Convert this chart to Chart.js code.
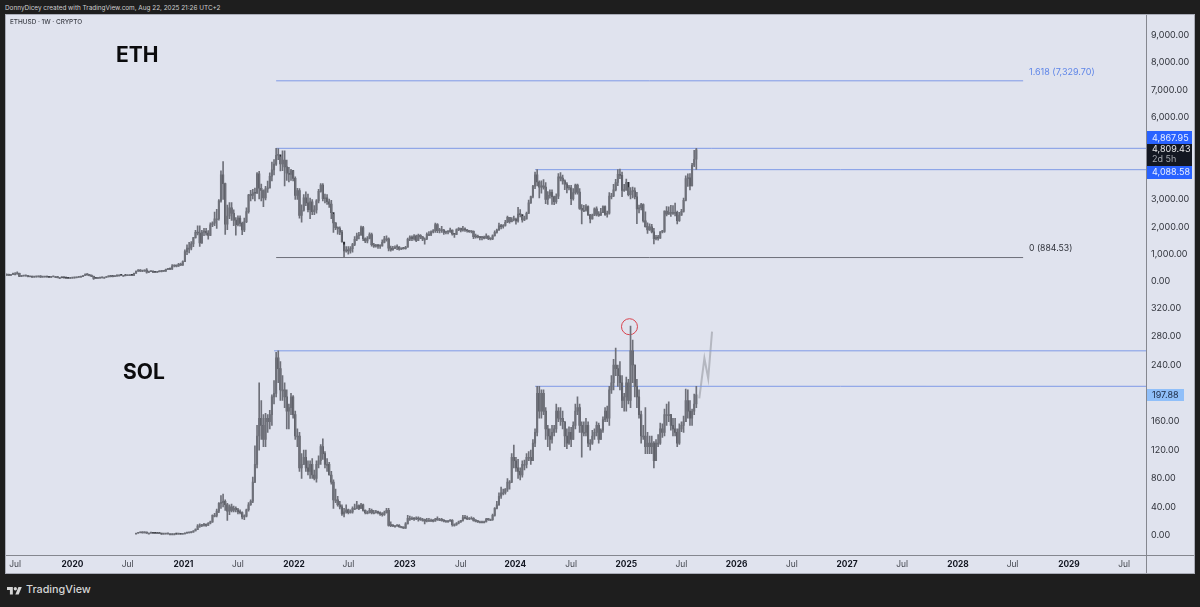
<!DOCTYPE html>
<html>
<head>
<meta charset="utf-8">
<title>ETH vs SOL</title>
<script src="https://cdn.jsdelivr.net/npm/chart.js@4/dist/chart.umd.js"></script>
<style>
html, body { margin: 0; padding: 0; background: #1e1e1e; width: 1200px; height: 607px; overflow: hidden; font-family: Inter, "Liberation Sans", sans-serif; }
#head { position: absolute; left: 5px; top: 3px; font-size: 6.4px; line-height: 10px; color: #cfcfcf; white-space: nowrap; }
#panel { position: absolute; left: 5px; top: 14px; width: 1190px; height: 560px; box-sizing: border-box; background: #e0e3ee; border: 1px solid #a9acb7; }
#panel canvas { position: absolute; left: 0; top: 0; }
#foot { position: absolute; left: 7px; top: 583px; display: flex; align-items: center; color: #d6d6d6; font-size: 10.8px; font-weight: 500; }
#foot svg { margin-right: 4px; }
</style>
</head>
<body>
<div id="head">DonnyDicey created with TradingView.com, Aug 22, 2025 21:26 UTC+2</div>
<div id="panel"><canvas id="c" width="1188" height="558"></canvas></div>
<div id="foot">
  <svg width="15" height="10" viewBox="0 0 36 22" fill="#d6d6d6"><path d="M14 22H7V11H0V4h14v18z"/><path d="M28 22h-8l7.5-18h8L28 22z"/><circle cx="20" cy="8" r="4"/></svg>
  <span>TradingView</span>
</div>
<script>
// --- Data (weekly candles) ---
const lastWeek = 294; // weeks since 1 Jan 2020, the current candle

const ethClose = [
  268,230,269,290,290,307,200,212,218,225,185,194,172,178,180,197,170,175,190,175,162,184,185,185,150,150,148,145,132,127,135,144,
  146,166,168,189,228,265,252,226,200,124,122,131,144,158,158,182,207,188,187,209,245,245,232,232,225,226,240,232,310,390,425,390,395,430,350,370,385,355,345,370,365,410,385,450,465,460,575,590,570,640,610,735,
  1100,1230,1230,1380,1610,1800,1780,1420,1810,1840,1780,1690,2080,2140,2300,2300,2950,3900,3580,2100,2400,2700,2500,2250,2080,2320,2130,1890,2190,2560,3160,3150,3240,3230,3940,3410,3330,3060,3390,3410,3850,4080,4290,4610,4630,4300,4440,4190,3960,3920,4060,3770,
  3150,3330,2420,2600,3060,2880,2630,2920,2560,2620,2950,3300,3530,3030,3060,2920,2830,2520,2150,1975,1945,1810,1450,1130,1140,1130,1210,1360,1550,1680,1700,1980,1570,1490,1580,1720,1350,1300,1320,1300,1310,1440,1570,1570,1230,1160,1220,1260,1270,1190,1220,1210,
  1260,1550,1630,1570,1670,1510,1690,1640,1560,1560,1730,1730,1820,1860,2090,1860,1870,1890,1800,1820,1830,1890,1750,1730,1900,1950,1880,1930,1890,1860,1830,1840,1650,1640,1630,1610,1620,1590,1670,1580,1560,1680,1800,1890,2040,2010,2060,2170,2350,2190,2270,2280,
  2220,2470,2450,2260,2290,2500,2880,3110,3490,3900,3640,3450,3500,3450,3000,3150,3260,3100,2920,3120,3830,3780,3680,3560,3420,3430,3030,3250,3530,3270,2680,2610,2610,2740,2440,2290,2430,2660,2470,2420,2520,2740,2460,2500,3130,3130,3350,3620,3920,3880,3330,3340,3630,
  3180,3300,3320,3100,2660,2700,2820,2220,2010,1890,2000,1820,1570,1620,1590,1820,1840,2580,2470,2530,2530,2530,2530,2230,2430,2570,2970,3760,3790,3500,4250,4470,4809.43
];
const ethHigh = [
  290,280,275,320,340,360,315,235,228,240,235,200,200,182,190,205,225,180,195,198,178,200,195,195,188,155,155,153,148,135,135,148,
  150,172,178,192,230,290,288,260,255,205,140,140,150,172,175,190,216,215,198,215,250,250,248,240,240,235,245,245,320,395,445,445,400,440,485,380,395,388,360,375,385,420,415,460,480,490,625,620,610,670,680,760,
  1170,1350,1440,1470,1620,1880,2040,2040,1880,1950,1950,1870,2150,2190,2540,2640,3000,4050,4380,3600,2800,2890,2890,2620,2340,2410,2410,2180,2320,2700,3190,3340,3370,3420,3980,4030,3560,3350,3480,3670,3970,4370,4460,4870,4860,4560,4780,4780,4440,4170,4100,4040,
  3830,3410,3400,2810,3180,3280,3200,3050,3000,2780,3000,3370,3580,3580,3200,3180,3020,2970,2460,2150,2000,2000,1880,1350,1280,1280,1280,1400,1650,1780,1800,2030,2020,1600,1650,1790,1780,1400,1370,1370,1350,1530,1660,1680,1600,1300,1290,1310,1350,1280,1240,1240,
  1290,1590,1680,1680,1720,1700,1740,1720,1660,1600,1790,1830,1860,1900,2140,2120,1950,2020,1910,1850,1860,1960,1890,1760,1930,1980,1960,2020,1970,1900,1880,1860,1860,1740,1700,1650,1660,1670,1750,1680,1600,1710,1860,1920,2140,2100,2090,2240,2400,2350,2340,2400,
  2320,2720,2630,2390,2400,2540,2980,3130,3520,4000,4090,3680,3680,3730,3620,3290,3350,3350,3130,3210,3950,3980,3890,3720,3620,3520,3520,3400,3560,3560,3400,2820,2790,2820,2770,2460,2470,2700,2730,2560,2680,2770,2770,2580,3250,3230,3550,3740,4090,4110,4000,3550,3750,
  3440,3440,3450,3430,3260,2800,2860,2840,2550,2150,2110,2100,1950,1690,1690,1830,1880,2590,2740,2730,2790,2780,2870,2580,2530,2640,3050,3860,3940,3950,4320,4790,4868
];
const ethLow = [
  240,225,228,262,275,280,195,190,205,208,180,175,165,165,165,175,165,165,170,170,155,160,178,178,145,135,140,140,125,120,122,128,
  130,142,155,165,186,225,240,215,195,90,115,125,128,140,150,155,175,180,180,185,205,232,225,218,215,220,225,230,230,308,375,375,365,380,310,330,365,335,335,340,360,360,375,380,445,445,450,540,540,565,595,600,
  730,990,1050,1160,1280,1590,1710,1290,1400,1680,1700,1550,1680,2010,2050,1950,2250,2900,3000,1730,1900,2300,2240,2050,1700,2040,2030,1720,1830,2160,2500,2950,3020,2950,3220,3020,2950,2740,2990,3260,3430,3680,3900,4240,4450,4040,4050,3500,3700,3640,3700,3680,
  3000,3000,2320,2170,2580,2780,2550,2300,2450,2450,2500,2880,3270,2950,2880,2820,2710,2300,1800,1900,1740,1720,1450,885,1080,1010,1040,1080,1320,1500,1560,1700,1500,1430,1420,1560,1300,1250,1260,1220,1220,1300,1420,1480,1130,1120,1150,1210,1170,1150,1170,1190,
  1190,1260,1500,1500,1520,1460,1500,1570,1500,1370,1540,1680,1680,1780,1800,1790,1780,1800,1730,1750,1750,1800,1700,1620,1720,1860,1820,1850,1840,1810,1800,1780,1570,1590,1600,1530,1530,1560,1580,1540,1530,1540,1660,1770,1870,1930,1960,2030,2160,2140,2180,2220,
  2100,2170,2370,2170,2230,2280,2480,2860,3060,3400,3500,3060,3230,3380,2850,2820,3050,2820,2810,2860,3030,3680,3560,3360,3240,3350,2810,2980,3200,3200,2640,2110,2560,2580,2420,2150,2280,2410,2400,2380,2430,2600,2420,2360,2470,3020,3100,3310,3510,3760,3100,3300,3340,
  3130,3020,3060,3020,2120,2510,2620,2170,1990,1760,1870,1780,1380,1530,1520,1580,1780,1800,2400,2460,2380,2460,2400,2110,2200,2420,2540,2950,3480,3350,3500,4200,4100
];

const solClose = [
  2.9,3.6,3.9,3.5,4.2,3.0,3.0,3.4,2.9,2.7,2.5,2.3,1.6,1.8,1.9,2.0,2.0,2.0,2.0,1.7,1.8,1.5,1.8,
  3.0,3.5,3.7,4.5,6,8,13,13.5,14,15,14,17,19,28,28,34,45,46,48,43,34,40,35,38,36,33,32,26,27,36,43,48,75,100,140,165,155,135,165,160,170,195,200,250,235,205,205,195,175,180,195,170,
  140,140,95,100,110,95,90,100,85,80,100,105,125,115,100,100,85,75,50,50,43,40,30,33,36,32,33,38,38,42,38,43,35,32,32,35,32,32,33,32,30,29,32,35,14,13.5,13,13,14,12,11,10,
  16,24,24,24,23,24,23,22,22,20,21,21,21,20,23,22,22,21,20,20,20,21,15,15,17,19,21,25,24,23,24,24,21,20,19,19,19,19,23,22,22,28,38,43,55,60,60,65,75,75,110,105,
  95,90,85,100,100,110,110,105,130,145,200,175,200,175,150,140,135,145,150,175,165,165,160,140,130,145,135,155,175,180,155,145,145,155,130,130,140,145,155,135,148,163,175,165,205,215,240,235,225,215,190,195,
  215,190,260,240,210,195,170,140,140,125,130,125,130,105,130,130,150,145,170,170,170,155,150,145,130,150,155,160,190,175,165,175,185,197.88
];
const solHigh = [
  3.2,3.9,4.5,4.1,4.8,4.4,3.2,3.8,3.5,3.0,2.8,2.6,2.4,2.0,2.1,2.3,2.3,2.3,2.4,2.1,1.9,1.9,1.9,
  3.6,4.0,4.2,4.8,6.5,9,15,16,15.5,17,16,18,20,29,31,37,46,56,58,50,45,43,44,41,40,38,36,33,29,37,46,50,82,126,155,215,190,170,172,170,176,198,218,258,260,245,225,215,205,185,200,197,
  175,150,145,115,120,120,105,105,108,92,105,112,128,136,118,108,103,90,78,65,55,48,43,38,43,37,36,40,44,48,43,45,44,36,34,38,37,35,35,34,33,32,34,38,38,19,15,14,15,15,12.5,12,
  18,28,27,26,25,26,26,25,24,23,24,24,23,22,24,26,24,24,22,21,21,22,22,16,18,20,21,28,28,27,25,26,25,22,21,20,20,20,24,24,23,30,39,48,60,68,65,66,80,77,115,127,
  110,107,95,105,106,115,118,120,135,150,210,210,205,205,180,155,150,155,155,185,180,180,175,160,150,153,152,160,185,195,185,160,160,165,160,135,148,150,160,158,150,167,180,182,210,225,248,264,240,245,225,200,
  223,220,295,275,240,220,205,175,155,180,145,140,140,132,135,142,158,157,178,185,188,170,165,165,150,157,160,168,206,205,190,178,199,210
];
const solLow = [
  2.4,2.8,3.4,3.2,3.4,2.9,2.2,2.9,2.7,2.4,2.3,2.2,1.5,1.5,1.6,1.7,1.8,1.8,1.8,1.6,1.5,1.4,1.4,
  1.8,2.9,3.2,3.5,4.3,6,8,11,12,13,12.5,14,16,18,26,26,32,38,40,35,21,29,33,33,33,30,30,23,22,26,34,42,46,74,95,120,135,125,125,145,150,155,185,195,215,190,190,180,150,150,170,165,
  135,125,90,80,100,90,85,80,80,78,75,95,100,107,95,90,85,72,38,46,41,37,28,26,31,30,31,31,36,37,36,38,34,30,30,31,30,30,31,30,28,27,28,31,13,12,12.5,12,13,11,10.5,9.5,
  9.5,16,21,22,21,22,20,21,20,16,19,20,20,19,20,21,21,20,19,19,19,20,13,13,14,16,18,20,23,22,22,23,20,19,18,18,18,18,19,21,21,21,27,37,42,52,57,58,62,65,74,95,
  90,80,78,82,92,95,105,100,105,125,140,165,165,170,135,125,120,130,140,145,160,155,150,125,122,128,125,135,150,170,145,110,140,140,125,120,128,135,140,130,135,145,160,160,155,200,205,225,210,205,180,175,
  175,185,180,215,195,180,165,130,135,115,115,115,115,95,120,125,128,138,140,155,160,148,140,140,125,128,146,145,160,165,155,155,170,180
];

const ethTicks = [0, 1000, 2000, 3000, 6000, 7000, 8000, 9000];
const solTicks = [0, 40, 80, 120, 160, 240, 280, 320];
const xTickWeeks = [-27, 0, 26, 52.3, 78, 104.4, 130, 156.6, 183, 208.7, 235, 261, 287, 313, 339, 365, 391, 417.3, 443, 469.6, 495.6];
const xTickLabels = ['Jul', '2020', 'Jul', '2021', 'Jul', '2022', 'Jul', '2023', 'Jul', '2024', 'Jul', '2025', 'Jul', '2026', 'Jul', '2027', 'Jul', '2028', 'Jul', '2029', 'Jul'];

// Drawn levels: [from week, to week, price]
const ethFibTop = [96, 448, 7329.70];
const ethFibBottom = [96, 448, 884.53];
const ethLevelHigh = [96, 506, 4867.95];
const ethLevelMid = [218, 506, 4088.58];
const solLevelHigh = [95, 506, 260];
const solLevelMid = [218, 506, 210];
const solPathWeeks = [295.4, 297.8, 299.6, 301.4];
const solPathPrices = [193, 249.5, 221, 287];
const solCircle = [262.5, 294];

// --- Chart helpers ---
const FONT = 'Inter, "Liberation Sans", sans-serif';
const UP_COLOR = '#6a6d75';
const DOWN_COLOR = '#2a2c33';
const LEVEL_BLUE = '#7f9ae6';

function wicks(close, high, low) {
  const first = lastWeek - close.length + 1;
  return close.map((_, i) => ({ x: first + i, y: [low[i], high[i]] }));
}

function bodies(close) {
  const first = lastWeek - close.length + 1;
  return close.map((c, i) => ({ x: first + i, y: [i ? close[i - 1] : c, c] }));
}

function bodyColors(close) {
  return close.map((c, i) => (i && c < close[i - 1] ? DOWN_COLOR : UP_COLOR));
}

function levelLine(level, yAxisID, color) {
  return {
    type: 'line', yAxisID, borderColor: color, borderWidth: 1, pointRadius: 0,
    data: [{ x: level[0], y: level[2] }, { x: level[1], y: level[2] }]
  };
}

function candleSets(close, high, low, yAxisID) {
  return [
    { type: 'bar', yAxisID, grouped: false, barThickness: 1, backgroundColor: '#6e7079', data: wicks(close, high, low) },
    { type: 'bar', yAxisID, grouped: false, barThickness: 1.4, minBarLength: 1, backgroundColor: bodyColors(close), data: bodies(close) }
  ];
}

// the labels must not push the plot area in, its edges are fixed
function noPadding(s) {
  s.paddingLeft = s.paddingRight = s.paddingTop = s.paddingBottom = 0;
}

function priceAxis(min, max, weight, list) {
  return {
    type: 'linear', position: 'right', stack: 'panes', stackWeight: weight, min, max,
    grid: { display: false, drawTicks: false },
    border: { display: true, color: '#85878f' },
    afterBuildTicks: s => { s.ticks = list.map(v => ({ value: v })); },
    afterFit: s => { s.width = 48; noPadding(s); },
    ticks: {
      padding: 5, color: '#2f323a', font: { family: FONT, size: 9 },
      callback: v => v.toLocaleString('en-US', { minimumFractionDigits: 2, maximumFractionDigits: 2 })
    }
  };
}

// Annotations and price tags sit on top of the panes
const overlay = {
  id: 'overlay',
  afterDraw(chart) {
    const { ctx, scales } = chart;
    const text = (label, x, y, font, color) => {
      ctx.font = font;
      ctx.fillStyle = color;
      ctx.textBaseline = 'middle';
      ctx.textAlign = 'left';
      ctx.fillText(label, x, y);
    };
    const tag = (top, h, w, bg) => {
      ctx.fillStyle = bg;
      ctx.fillRect(1141, top, w, h);
    };

    // pane frame lines past the plot area
    ctx.strokeStyle = '#85878f';
    ctx.lineWidth = 1;
    ctx.beginPath();
    ctx.moveTo(0, scales.x.top + 0.5);
    ctx.lineTo(1188, scales.x.top + 0.5);
    ctx.moveTo(scales.yEth.left + 0.5, scales.x.top);
    ctx.lineTo(scales.yEth.left + 0.5, 558);
    ctx.stroke();

    const f = (w, s) => `${w} ${s}px ${FONT}`;
    text('ETHUSD \u00b7 1W \u00b7 CRYPTO', 4, 7.5, f(500, 6.4), '#3a3d45');
    text('ETH', 110, 41, f(700, 21), '#0b0b0d');
    text('SOL', 117, 358, f(700, 21), '#0b0b0d');
    text('1.618 (7,329.70)', 1023, 57, f(400, 9), '#5f86e8');
    text('0 (884.53)', 1023, 233.5, f(400, 8.7), '#2f323a');

    tag(116, 13, 45, '#2962ff');
    tag(129, 22, 45, '#131722');
    tag(151, 13, 45, '#2962ff');
    tag(374, 12, 37, '#90bff9');
    text('4,867.95', 1146, 123, f(400, 9), '#e8eeff');
    text('4,809.43', 1146, 134, f(400, 9), '#e8e8ea');
    text('2d 5h', 1146, 144.5, f(400, 9), '#a4a7ae');
    text('4,088.58', 1146, 157.5, f(400, 9), '#e8eeff');
    text('197.88', 1146, 380, f(400, 9), '#1c2a44');
  }
};

new Chart(document.getElementById('c'), {
  type: 'bar',
  plugins: [overlay],
  data: {
    datasets: [
      ...candleSets(ethClose, ethHigh, ethLow, 'yEth'),
      ...candleSets(solClose, solHigh, solLow, 'ySol'),
      levelLine(ethFibTop, 'yEth', LEVEL_BLUE),
      levelLine(ethFibBottom, 'yEth', '#6e7079'),
      levelLine(ethLevelHigh, 'yEth', LEVEL_BLUE),
      levelLine(ethLevelMid, 'yEth', LEVEL_BLUE),
      levelLine(solLevelHigh, 'ySol', LEVEL_BLUE),
      levelLine(solLevelMid, 'ySol', LEVEL_BLUE),
      {
        type: 'line', yAxisID: 'ySol', borderColor: '#b4b7c0', borderWidth: 2, pointRadius: 0,
        data: solPathWeeks.map((w, i) => ({ x: w, y: solPathPrices[i] }))
      },
      {
        type: 'line', yAxisID: 'ySol', showLine: false, pointRadius: 8, pointBackgroundColor: 'transparent',
        pointBorderColor: '#d9434e', pointBorderWidth: 1,
        data: [{ x: solCircle[0], y: solCircle[1] }]
      }
    ]
  },
  options: {
    responsive: false,
    animation: false,
    layout: { padding: 0, autoPadding: false }, // the circle marker would inset the plot otherwise
    plugins: { legend: { display: false }, tooltip: { enabled: false } },
    scales: {
      x: {
        type: 'linear', offset: false, min: -31.3, max: 505.9,
        grid: { display: false, drawTicks: false, offset: false },
        border: { display: false },
        afterBuildTicks: s => { s.ticks = xTickWeeks.map(v => ({ value: v })); },
        afterFit: s => { s.height = 18; noPadding(s); },
        ticks: {
          autoSkip: false, maxRotation: 0, padding: 4,
          color: c => (c.index % 2 ? '#131722' : '#3f424a'),
          font: c => ({ family: FONT, size: 8.4, weight: c.index % 2 ? 700 : 400 }),
          callback: (v, i) => xTickLabels[i]
        }
      },
      yEth: priceAxis(-645, 9730, 285, ethTicks),
      ySol: priceAxis(-27.8, 332.4, 256, solTicks)
    }
  }
});
</script>
</body>
</html>
